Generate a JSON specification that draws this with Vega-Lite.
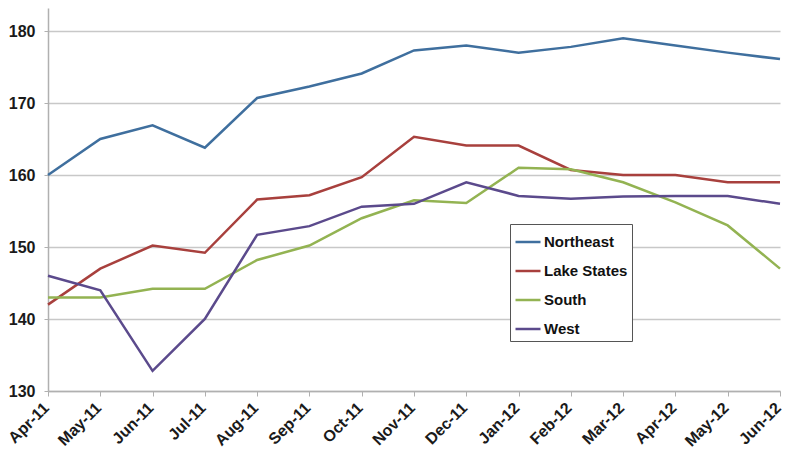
{
  "$schema": "https://vega.github.io/schema/vega-lite/v6.json",
  "width": 732,
  "height": 383,
  "autosize": {"type": "none"},
  "padding": {"left": 48, "top": 8, "right": 5, "bottom": 65},
  "background": "white",
  "config": {
    "view": {"stroke": null},
    "font": "Liberation Sans"
  },
  "data": {
    "values": [
      {"month": "Apr-11", "region": "Northeast", "value": 160},
      {"month": "May-11", "region": "Northeast", "value": 165},
      {"month": "Jun-11", "region": "Northeast", "value": 166.9},
      {"month": "Jul-11", "region": "Northeast", "value": 163.8},
      {"month": "Aug-11", "region": "Northeast", "value": 170.7},
      {"month": "Sep-11", "region": "Northeast", "value": 172.3},
      {"month": "Oct-11", "region": "Northeast", "value": 174.1},
      {"month": "Nov-11", "region": "Northeast", "value": 177.3},
      {"month": "Dec-11", "region": "Northeast", "value": 178},
      {"month": "Jan-12", "region": "Northeast", "value": 177},
      {"month": "Feb-12", "region": "Northeast", "value": 177.8},
      {"month": "Mar-12", "region": "Northeast", "value": 179},
      {"month": "Apr-12", "region": "Northeast", "value": 178},
      {"month": "May-12", "region": "Northeast", "value": 177},
      {"month": "Jun-12", "region": "Northeast", "value": 176.1},
      {"month": "Apr-11", "region": "Lake States", "value": 142},
      {"month": "May-11", "region": "Lake States", "value": 147},
      {"month": "Jun-11", "region": "Lake States", "value": 150.2},
      {"month": "Jul-11", "region": "Lake States", "value": 149.2},
      {"month": "Aug-11", "region": "Lake States", "value": 156.6},
      {"month": "Sep-11", "region": "Lake States", "value": 157.2},
      {"month": "Oct-11", "region": "Lake States", "value": 159.7},
      {"month": "Nov-11", "region": "Lake States", "value": 165.3},
      {"month": "Dec-11", "region": "Lake States", "value": 164.1},
      {"month": "Jan-12", "region": "Lake States", "value": 164.1},
      {"month": "Feb-12", "region": "Lake States", "value": 160.7},
      {"month": "Mar-12", "region": "Lake States", "value": 160},
      {"month": "Apr-12", "region": "Lake States", "value": 160},
      {"month": "May-12", "region": "Lake States", "value": 159},
      {"month": "Jun-12", "region": "Lake States", "value": 159},
      {"month": "Apr-11", "region": "South", "value": 143},
      {"month": "May-11", "region": "South", "value": 143},
      {"month": "Jun-11", "region": "South", "value": 144.2},
      {"month": "Jul-11", "region": "South", "value": 144.2},
      {"month": "Aug-11", "region": "South", "value": 148.2},
      {"month": "Sep-11", "region": "South", "value": 150.2},
      {"month": "Oct-11", "region": "South", "value": 154},
      {"month": "Nov-11", "region": "South", "value": 156.5},
      {"month": "Dec-11", "region": "South", "value": 156.1},
      {"month": "Jan-12", "region": "South", "value": 161},
      {"month": "Feb-12", "region": "South", "value": 160.8},
      {"month": "Mar-12", "region": "South", "value": 159},
      {"month": "Apr-12", "region": "South", "value": 156.2},
      {"month": "May-12", "region": "South", "value": 153},
      {"month": "Jun-12", "region": "South", "value": 147},
      {"month": "Apr-11", "region": "West", "value": 146},
      {"month": "May-11", "region": "West", "value": 144},
      {"month": "Jun-11", "region": "West", "value": 132.8},
      {"month": "Jul-11", "region": "West", "value": 140},
      {"month": "Aug-11", "region": "West", "value": 151.7},
      {"month": "Sep-11", "region": "West", "value": 152.9},
      {"month": "Oct-11", "region": "West", "value": 155.6},
      {"month": "Nov-11", "region": "West", "value": 156},
      {"month": "Dec-11", "region": "West", "value": 159},
      {"month": "Jan-12", "region": "West", "value": 157.1},
      {"month": "Feb-12", "region": "West", "value": 156.7},
      {"month": "Mar-12", "region": "West", "value": 157},
      {"month": "Apr-12", "region": "West", "value": 157.1},
      {"month": "May-12", "region": "West", "value": 157.1},
      {"month": "Jun-12", "region": "West", "value": 156}
    ]
  },
  "mark": {"type": "line", "strokeWidth": 2.5},
  "encoding": {
    "x": {
      "field": "month",
      "type": "ordinal",
      "sort": null,
      "scale": {"type": "point", "padding": 0},
      "axis": {
        "title": null,
        "labelAngle": -45,
        "labelAlign": "right",
        "labelBaseline": "middle",
        "labelFontSize": 16,
        "labelFontWeight": "bold",
        "labelColor": "#1a1a1a",
        "labelPadding": 9,
        "labelOffset": -2,
        "labelBound": false,
        "tickColor": "#b0b0b0",
        "tickSize": 5,
        "domainColor": "#b0b0b0",
        "domainWidth": 1.5,
        "grid": false
      }
    },
    "y": {
      "field": "value",
      "type": "quantitative",
      "scale": {"domain": [130, 183.2], "nice": false, "zero": false},
      "axis": {
        "title": null,
        "values": [130, 140, 150, 160, 170, 180],
        "labelFontSize": 16,
        "labelFontWeight": "bold",
        "labelColor": "#1a1a1a",
        "labelPadding": 9,
        "tickSize": 4,
        "tickColor": "#b0b0b0",
        "domainColor": "#b0b0b0",
        "domainWidth": 1.5,
        "grid": true,
        "gridColor": "#c8c8c8",
        "gridWidth": 1.5
      }
    },
    "color": {
      "field": "region",
      "type": "nominal",
      "sort": ["Northeast", "Lake States", "South", "West"],
      "scale": {
        "domain": ["Northeast", "Lake States", "South", "West"],
        "range": ["#3f6f9e", "#a8403d", "#93b352", "#5b4a8c"]
      },
      "legend": {
        "title": null,
        "orient": "none",
        "legendX": 462,
        "legendY": 216,
        "symbolType": "stroke",
        "symbolSize": 625,
        "symbolStrokeWidth": 2.5,
        "labelFontSize": 15,
        "labelFontWeight": "bold",
        "labelColor": "#111111",
        "labelOffset": 2,
        "rowPadding": 7,
        "padding": 4,
        "strokeColor": "#555555",
        "fillColor": "white"
      }
    }
  }
}
